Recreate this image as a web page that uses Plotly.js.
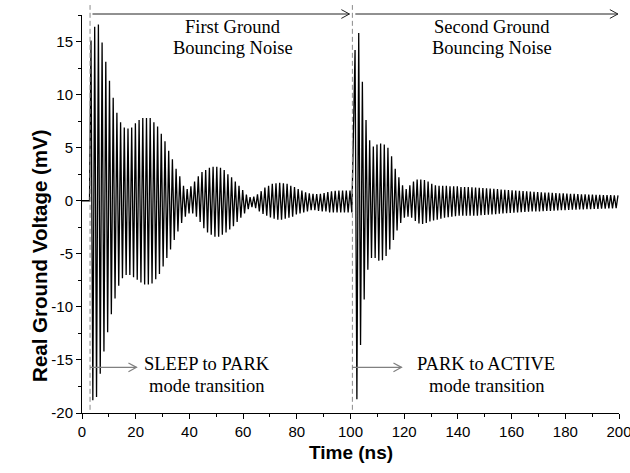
<!DOCTYPE html>
<html><head><meta charset="utf-8">
<script src="https://cdn.plot.ly/plotly-3.0.1.min.js"></script>
<style>html,body{margin:0;padding:0;background:#fff}#chart{width:630px;height:473px}</style>
</head><body><div id="chart"></div>
<script>
// ---- data (time in ns, voltage in mV) ----
const leadTime = [0, 2.8];
const leadVolt = [0, 0];

// first ground-bouncing burst: per-cycle positive and negative peaks
const burst1Start = 3.35;
const burst1Period = 1.378;
const burst1Max = [15.1,16.4,16.6,14.9,13.1,11.3,9.7,8.3,7.4,6.9,6.8,6.9,7.3,7.6,7.8,7.8,7.8,7.4,7.0,6.3,5.6,4.7,3.9,3.0,2.3,1.4,1.1,1.35,1.8,2.3,2.7,2.9,3.1,3.2,3.2,3.1,2.9,2.5,2.2,1.8,1.4,1.0,0.57,0.35,0.4,0.6,0.9,1.25,1.4,1.6,1.65,1.68,1.65,1.6,1.4,1.3,1.1,0.95,0.8,0.7,0.66,0.63,0.66,0.72,0.82,0.88,0.94,0.97,0.97,0.97,0.97];
const burst1Min = [-18.8,-18.5,-16.3,-14.2,-12.4,-10.7,-9.2,-8.0,-7.3,-7.0,-7.0,-7.2,-7.45,-7.7,-7.9,-7.9,-7.8,-7.4,-6.9,-6.2,-5.4,-4.6,-3.7,-2.9,-2.1,-1.5,-1.2,-1.2,-1.5,-2.0,-2.6,-3.0,-3.2,-3.4,-3.4,-3.2,-3.0,-2.7,-2.4,-2.0,-1.6,-1.2,-0.8,-0.6,-0.7,-1.0,-1.25,-1.4,-1.57,-1.7,-1.8,-1.8,-1.7,-1.6,-1.5,-1.3,-1.2,-1.1,-1.0,-0.9,-0.9,-0.95,-1.0,-1.0,-1.1,-1.1,-1.1,-1.1,-1.1,-1.1,-1.1];

// second ground-bouncing burst
const burst2Start = 101.7;
const burst2Period = 1.36;
const burst2Max = [14.2,15.8,11.2,7.6,5.7,5.1,5.3,5.4,5.3,5.0,4.2,3.0,2.2,1.45,1.1,1.45,1.8,2.0,2.0,1.95,1.8,1.6,1.45,1.4,1.4,1.4,1.35,1.35,1.35,1.3,1.3,1.3,1.27,1.25,1.22,1.2,1.17,1.15,1.12,1.09,1.06,1.03,1.0,0.98,0.95,0.93,0.9,0.88,0.86,0.84,0.82,0.8,0.78,0.76,0.74,0.72,0.71,0.69,0.67,0.66,0.64,0.63,0.61,0.6,0.59,0.57,0.56,0.55,0.54,0.53,0.52,0.51,0.5];
const burst2Min = [-18.7,-13.6,-9.3,-6.5,-5.4,-5.4,-5.65,-5.6,-5.2,-4.6,-3.7,-2.8,-2.1,-1.6,-1.5,-1.6,-1.9,-2.15,-2.2,-2.1,-1.95,-1.85,-1.8,-1.7,-1.6,-1.55,-1.5,-1.45,-1.4,-1.4,-1.4,-1.4,-1.4,-1.4,-1.37,-1.35,-1.32,-1.29,-1.26,-1.23,-1.2,-1.17,-1.15,-1.12,-1.1,-1.08,-1.06,-1.04,-1.02,-1.01,-1.0,-0.98,-0.96,-0.95,-0.93,-0.91,-0.9,-0.88,-0.87,-0.85,-0.84,-0.82,-0.81,-0.8,-0.79,-0.77,-0.76,-0.75,-0.74,-0.73,-0.72,-0.71];

const xTicks = [0,20,40,60,80,100,120,140,160,180,200];
const yTicks = [-20,-15,-10,-5,0,5,10,15];

// event markers (ns)
const sleepToPark = 3.0;
const parkToActive = 100.7;

// ---- build the sampled waveform from the peak lists ----
const t = [], v = [];
leadTime.forEach((x, i) => { t.push(x); v.push(leadVolt[i]); });
function addBurst(start, period, maxs, mins) {
  for (let k = 0; k < maxs.length; k++) {
    t.push(start + k * period); v.push(maxs[k]);
    if (k < mins.length) { t.push(start + (k + 0.5) * period); v.push(mins[k]); }
  }
}
addBurst(burst1Start, burst1Period, burst1Max, burst1Min);
addBurst(burst2Start, burst2Period, burst2Max, burst2Min);

const serif = 'Liberation Serif, Times New Roman, serif';
const sans = 'Liberation Sans, Arial, sans-serif';

function chevron(xTip, yTip, dx, dy) {
  return `M ${xTip - dx},${yTip + dy} L ${xTip},${yTip} L ${xTip - dx},${yTip - dy}`;
}
const topY = 1.0025;
const lowY = -15.7;
const shapes = [
  {type:'line', xref:'x', yref:'paper', x0:sleepToPark, x1:sleepToPark, y0:0.008, y1:1.025, line:{color:'#8a8a8a', width:1, dash:'5px,3px'}},
  {type:'line', xref:'x', yref:'paper', x0:parkToActive, x1:parkToActive, y0:0.008, y1:1.025, line:{color:'#8a8a8a', width:1, dash:'5px,3px'}},
  {type:'line', xref:'x', yref:'paper', x0:3.9, x1:99.6, y0:topY, y1:topY, line:{color:'#222', width:1}},
  {type:'path', xref:'x', yref:'paper', path:chevron(99.6, topY, 3.0, 0.011), line:{color:'#222', width:1}},
  {type:'line', xref:'x', yref:'paper', x0:101.8, x1:199.6, y0:topY, y1:topY, line:{color:'#222', width:1}},
  {type:'path', xref:'x', yref:'paper', path:chevron(199.6, topY, 3.0, 0.011), line:{color:'#222', width:1}},
  {type:'line', xref:'x', yref:'y', x0:sleepToPark, x1:20.3, y0:lowY, y1:lowY, line:{color:'#808080', width:1.2}},
  {type:'path', xref:'x', yref:'y', path:chevron(20.3, lowY, 3.0, 0.42), line:{color:'#808080', width:1.2}},
  {type:'line', xref:'x', yref:'y', x0:parkToActive, x1:119.0, y0:lowY, y1:lowY, line:{color:'#808080', width:1.2}},
  {type:'path', xref:'x', yref:'y', path:chevron(119.0, lowY, 3.0, 0.42), line:{color:'#808080', width:1.2}}
];

function label(text, x, y) {
  return {text, x, y, xref:'x', yref:'y', showarrow:false, xanchor:'center', yanchor:'middle',
          font:{family:serif, size:18.5, color:'#000'}};
}
const annotations = [
  label('First Ground', 56.2, 16.4),
  label('Bouncing Noise', 56.2, 14.4),
  label('Second Ground', 152.8, 16.4),
  label('Bouncing Noise', 152.8, 14.4),
  label('SLEEP to PARK', 46.6, -15.4),
  label('mode transition', 46.6, -17.45),
  label('PARK to ACTIVE', 150.3, -15.4),
  label('mode transition', 150.8, -17.45),
  {text:'<b>Time (ns)</b>', xref:'paper', yref:'paper', x:0.5, y:-0.098, xanchor:'center', yanchor:'middle',
   showarrow:false, font:{family:sans, size:19, color:'#000'}},
  {text:'<b>Real Ground Voltage (mV)</b>', xref:'paper', yref:'paper', x:-0.078, y:0.395, xanchor:'center', yanchor:'middle',
   textangle:-90, showarrow:false, font:{family:sans, size:20.5, color:'#000'}}
];

const trace = {x:t, y:v, type:'scatter', mode:'lines', line:{color:'#000', width:1.3}, hoverinfo:'skip'};

const layout = {
  width:630, height:473,
  margin:{l:82, r:11, t:15, b:60},
  paper_bgcolor:'#fff', plot_bgcolor:'#fff',
  showlegend:false,
  xaxis:{range:[0,200], tickmode:'array', tickvals:xTicks, ticktext:xTicks.map(String),
    ticks:'outside', ticklen:5, tickwidth:1, tickcolor:'#000', ticklabeloverflow:'allow',
    showline:true, linecolor:'#000', linewidth:1, showgrid:false, zeroline:false,
    minor:{dtick:10, tick0:0, ticks:'outside', ticklen:3, tickcolor:'#000', showgrid:false},
    tickfont:{family:sans, size:15, color:'#000'}},
  yaxis:{range:[-20,17.5], tickmode:'array', tickvals:yTicks, ticktext:yTicks.map(String),
    ticks:'outside', ticklen:5, tickwidth:1, tickcolor:'#000',
    showline:true, linecolor:'#000', linewidth:1, showgrid:false, zeroline:false,
    minor:{dtick:2.5, tick0:0, ticks:'outside', ticklen:3, tickcolor:'#000', showgrid:false},
    tickfont:{family:sans, size:15, color:'#000'}},
  shapes, annotations
};

Plotly.newPlot('chart', [trace], layout, {displayModeBar:false, staticPlot:true});
</script>
</body></html>
